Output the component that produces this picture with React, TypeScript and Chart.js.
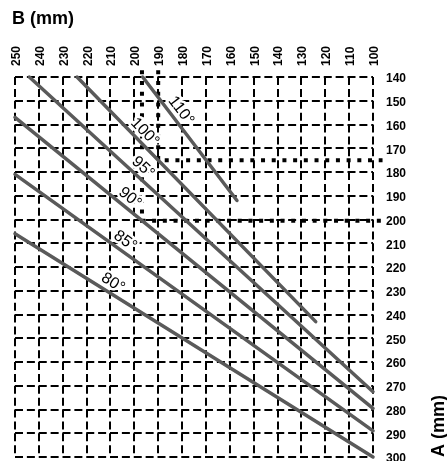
import React, { useEffect, useRef } from "react";
import { Chart, registerables } from "chart.js";

Chart.register(...registerables);

// Angle lines: B (mm) on x axis, A (mm) on y axis
const angleLabels = ["110°", "100°", "95°", "90°", "85°", "80°"];
const startB = [196.5, 224, 244, 250, 250, 250];
const startA = [140, 140, 140, 157, 181, 206];
const endB = [157, 124, 100, 100, 100, 100];
const endA = [192, 243, 272.5, 279.5, 289, 300];
// B value on each line where its label is attached
const labelB = [183.8, 198.6, 199.2, 204.5, 206.3, 211.2];

// Dotted guide lines
const guide1B = [190, 190, 96];
const guide1A = [137.2, 175, 175];
const guide2B = [196.8, 196.8, 96];
const guide2A = [137.2, 200.5, 200.5];

const xMin = 100;
const xMax = 250;
const yMin = 140;
const yMax = 300;
const tickStep = 10;

const FONT = '"Liberation Sans", Arial, Helvetica, sans-serif';

export default function App() {
  const ref = useRef<HTMLCanvasElement | null>(null);

  useEffect(() => {
    const canvas = ref.current;
    if (!canvas) return;

    const lineSets = angleLabels.map((lab, i) => ({
      label: lab,
      data: [
        { x: startB[i], y: startA[i] },
        { x: endB[i], y: endA[i] },
      ],
      borderColor: "#5a5a5a",
      borderWidth: 3.5,
      borderCapStyle: "round" as const,
      pointRadius: 0,
      fill: false,
      clip: false as any,
    }));

    const guideSet = (bs: number[], as: number[]) => ({
      label: "guide",
      data: bs.map((b, i) => ({ x: b, y: as[i] })),
      borderColor: "#000",
      borderWidth: 4,
      borderDash: [4, 6.7],
      borderCapStyle: "butt" as const,
      pointRadius: 0,
      fill: false,
      clip: false as any,
    });

    const labelPlugin = {
      id: "angleLabels",
      afterDatasetsDraw(chart: any) {
        const { ctx, scales } = chart;
        const xs = scales.x;
        const ys = scales.y;
        ctx.save();
        ctx.font = `16px ${FONT}`;
        angleLabels.forEach((text, i) => {
          const x1 = xs.getPixelForValue(startB[i]);
          const y1 = ys.getPixelForValue(startA[i]);
          const x2 = xs.getPixelForValue(endB[i]);
          const y2 = ys.getPixelForValue(endA[i]);
          const t = (labelB[i] - startB[i]) / (endB[i] - startB[i]);
          const px = x1 + t * (x2 - x1);
          const py = y1 + t * (y2 - y1);
          const ang = Math.atan2(y2 - y1, x2 - x1);
          ctx.save();
          ctx.translate(px, py);
          ctx.rotate(ang);
          ctx.textAlign = "center";
          ctx.textBaseline = "middle";
          ctx.lineJoin = "round";
          ctx.strokeStyle = "#fff";
          ctx.lineWidth = 5;
          ctx.strokeText(text, 0, -10);
          ctx.fillStyle = "#000";
          ctx.fillText(text, 0, -10);
          ctx.restore();
        });
        ctx.restore();
      },
      afterDraw(chart: any) {
        const { ctx } = chart;
        ctx.save();
        ctx.fillStyle = "#000";
        ctx.font = `bold 18px ${FONT}`;
        ctx.textAlign = "left";
        ctx.textBaseline = "alphabetic";
        ctx.fillText("B (mm)", 12, 24);
        ctx.translate(444, 457);
        ctx.rotate(-Math.PI / 2);
        ctx.fillText("A (mm)", 0, 0);
        ctx.restore();
      },
    };

    const chart = new Chart(canvas, {
      type: "line",
      data: {
        datasets: [
          ...lineSets,
          guideSet(guide1B, guide1A),
          guideSet(guide2B, guide2A),
        ] as any,
      },
      options: {
        animation: false,
        responsive: false,
        maintainAspectRatio: false,
        devicePixelRatio: 1,
        layout: { autoPadding: false, padding: { left: 15, top: 0, right: 0, bottom: 4 } },
        plugins: {
          legend: { display: false },
          tooltip: { enabled: false },
          title: { display: false },
        },
        scales: {
          x: {
            type: "linear",
            position: "top",
            reverse: true,
            min: xMin,
            max: xMax,
            afterFit: (s: any) => {
              s.height = 77;
              s.paddingLeft = 0;
              s.paddingRight = 0;
              s.paddingTop = 0;
              s.paddingBottom = 0;
            },
            ticks: {
              stepSize: tickStep,
              minRotation: 90,
              maxRotation: 90,
              padding: 11,
              labelOffset: 16,
              color: "#000",
              font: { family: FONT, size: 12, weight: "bold" },
            },
            grid: { color: "#000", lineWidth: 2, drawTicks: false },
            border: { display: false, dash: [8, 3.875] },
          },
          y: {
            type: "linear",
            position: "right",
            reverse: true,
            min: yMin,
            max: yMax,
            afterFit: (s: any) => {
              s.width = 74;
              s.paddingLeft = 0;
              s.paddingRight = 0;
              s.paddingTop = 0;
              s.paddingBottom = 0;
            },
            ticks: {
              stepSize: tickStep,
              padding: 13,
              labelOffset: 2,
              color: "#000",
              font: { family: FONT, size: 12, weight: "bold" },
            },
            grid: { color: "#000", lineWidth: 2, drawTicks: false },
            border: { display: false, dash: [8, 3.875] },
          },
        },
      } as any,
      plugins: [labelPlugin],
    });

    return () => chart.destroy();
  }, []);

  return (
    <div style={{ position: "fixed", left: 0, top: 0, width: 447, height: 461, background: "#fff" }}>
      <canvas ref={ref} width={447} height={461} style={{ display: "block" }} />
    </div>
  );
}
